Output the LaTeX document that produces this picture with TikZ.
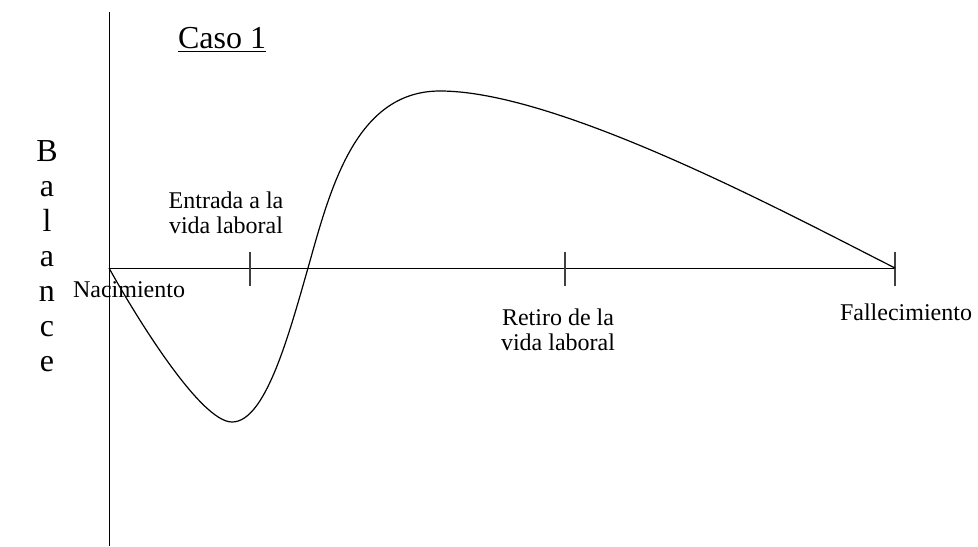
\documentclass[tikz,border=0pt]{standalone}
\usepackage{fontspec}
\setmainfont{Liberation Serif}
\usetikzlibrary{positioning}

\begin{document}
\begin{tikzpicture}
			[x=0.5pt, y=-0.5pt, line width=0.5pt]
			
			\tikzstyle{etiqueta} = [align=center, font=\fontsize{12}{12.5}\selectfont, inner sep=0pt]
			
			\tikzstyle{marca} = [line width=0.6pt, draw=black!75]
			
			\tikzstyle{curva} = [line width=0.6pt]
			
			\useasboundingbox (0,0) rectangle (978,546);
			
			\coordinate (ejetop) at (109,12);
			\coordinate (ejebot) at (109,546);
			\coordinate (nac) at (109,268);
			\coordinate (fal) at (895,268);
			\coordinate (ent) at (250,268);
			\coordinate (ret) at (565,268);
			\coordinate (minimo) at (232,422);
			\coordinate (cruce) at (308,268);
			\coordinate (maximo) at (440,91);
			
			\node (caso) [inner sep=0pt, font=\fontsize{16}{16}\selectfont] at (222,40) {\underline{Caso 1}};
			\node (balance) [align=center, inner sep=0pt, font=\fontsize{16}{17.5}\selectfont] at (47,256) {B\\a\\l\\a\\n\\c\\e};
			\node (tent) [etiqueta] at (226,213) {Entrada a la\\vida laboral};
			\node (tnac) [etiqueta] at (129,290) {Nacimiento};
			\node (tret) [etiqueta] at (558,330) {Retiro de la\\vida laboral};
			\node (tfal) [etiqueta] at (906,312) {Fallecimiento};
			
			\draw (ejetop) -- (ejebot);
			\draw (nac) -- (fal);
			\draw [marca] (ent) ++(0,-16) -- ++(0,34);
			\draw [marca] (ret) ++(0,-16) -- ++(0,34);
			\draw [marca] (fal) ++(0,-16) -- ++(0,34);
			
			\draw [curva] (nac) .. controls (134,313) and (200,422) .. (minimo)
			.. controls (265,422) and (288,338) .. (cruce)
			.. controls (330,190) and (355,91) .. (maximo)
			.. controls (560,91) and (790,215) .. (fal);
			
		\end{tikzpicture}
\end{document}
